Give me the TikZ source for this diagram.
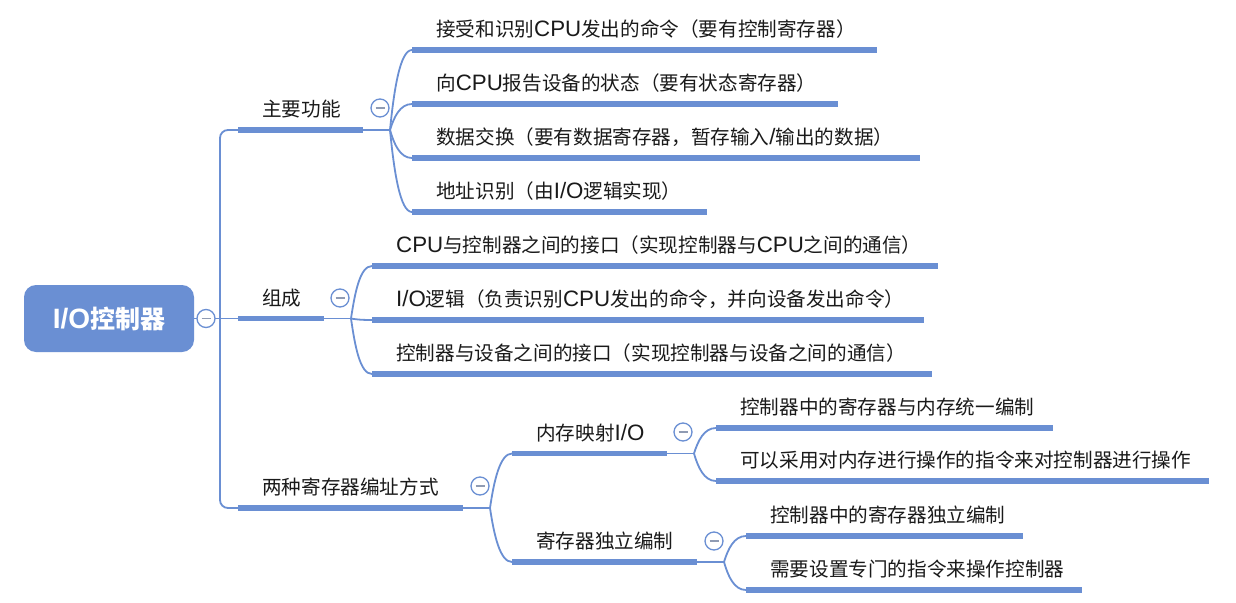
\documentclass[tikz,border=0pt]{standalone}
\usepackage{fontspec}
\setmainfont{Noto Sans CJK SC}
\newfontfamily\latinfont{Liberation Sans}
\usetikzlibrary{calc}
\definecolor{mblue}{HTML}{6A8FD3}
\definecolor{mgrey}{HTML}{8F9BB3}
\definecolor{mtext}{HTML}{1A1A1A}
\newcommand\lat[1]{{\latinfont\fontsize{22.3pt}{23pt}\selectfont #1}}
\newcommand\rlat[1]{{\latinfont\bfseries\fontsize{28pt}{30pt}\selectfont #1}}
\newcommand\tp[2]{\makebox[#1pt][l]{\hspace*{24pt}#2}}
\tikzset{
  topic/.style={anchor=south west, inner xsep=0pt, inner ysep=13pt, text depth=0pt, text height=15pt,
    font=\fontsize{19.6pt}{23pt}\selectfont, text=mtext},
  ul/.style={draw=mblue, line width=5.8pt},
  conn/.style={draw=mblue, line width=1.8pt},
  branch/.style={to path={.. controls ($(\tikztostart)!0.5!(\tikztostart|-\tikztotarget)+(4pt,0)$) and ($(\tikztotarget)+(-12pt,0)$) .. (\tikztotarget)}},
  collapse/.style={circle, draw=mblue, fill=white, line width=1.3pt, minimum size=18pt, inner sep=0pt,
    path picture={\draw[mgrey, line width=1.6pt] ($(path picture bounding box.center)+(-4.5pt,0)$) -- ($(path picture bounding box.center)+(4.5pt,0)$);}},
  rootbox/.style={rounded corners=12pt, fill=mblue, text=white, minimum width=170pt, minimum height=67pt,
    inner sep=0pt, font=\fontsize{25pt}{30pt}\selectfont\bfseries},
}
\begin{document}
\begin{tikzpicture}[x=1pt, y=-1pt]
\useasboundingbox[fill=white] (0,0) rectangle (1236,602);

% root
\node[rootbox] (root) at (109,318.5) {\rlat{I/O}控制器};

% level 1
\node[topic] (m1) at (238,130) {\tp{125}{主要功能}};
\node[topic] (m2) at (238,318.5) {\tp{86}{组成}};
\node[topic] (m3) at (238,508) {\tp{225}{两种寄存器编址方式}};

% children of m1
\node[topic] (a1) at (412,50) {\tp{465}{接受和识别\lat{CPU}发出的命令（要有控制寄存器）}};
\node[topic] (a2) at (412,104) {\tp{426}{向\lat{CPU}报告设备的状态（要有状态寄存器）}};
\node[topic] (a3) at (412,158) {\tp{508}{数据交换（要有数据寄存器，暂存输入\lat{/}输出的数据）}};
\node[topic] (a4) at (412,212) {\tp{295}{地址识别（由\lat{I/O}逻辑实现）}};

% children of m2
\node[topic] (b1) at (372,266) {\tp{566}{\lat{CPU}与控制器之间的接口（实现控制器与\lat{CPU}之间的通信）}};
\node[topic] (b2) at (372,320) {\tp{552}{\lat{I/O}逻辑（负责识别\lat{CPU}发出的命令，并向设备发出命令）}};
\node[topic] (b3) at (372,374) {\tp{560}{控制器与设备之间的接口（实现控制器与设备之间的通信）}};

% children of m3
\node[topic] (c1) at (512,453.5) {\tp{155}{内存映射\lat{I/O}}};
\node[topic] (c2) at (512,562) {\tp{185}{寄存器独立编制}};

% children of c1
\node[topic] (d1) at (716,428) {\tp{337}{控制器中的寄存器与内存统一编制}};
\node[topic] (d2) at (716,481) {\tp{493}{可以采用对内存进行操作的指令来对控制器进行操作}};

% children of c2
\node[topic] (e1) at (746,536) {\tp{277}{控制器中的寄存器独立编制}};
\node[topic] (e2) at (746,590) {\tp{336}{需要设置专门的指令来操作控制器}};

% junctions
\coordinate (J0) at (220,318.5);
\coordinate (J1) at (390,130);
\coordinate (J2) at (351,318.5);
\coordinate (J3) at (490,508);
\coordinate (J4) at (694,453.5);
\coordinate (J5) at (724,562);

% connectors
\draw[conn] (root.east) -- (m2.south west);
\draw[conn, rounded corners=8pt] (J0) |- (m1.south west);
\draw[conn, rounded corners=8pt] (J0) |- (m3.south west);

\draw[conn] (m1.south east) -- (J1);
\foreach \n in {a1,a2,a3,a4} \draw[conn] (J1) to[branch] (\n.south west);

\draw[conn] (m2.south east) -- (J2);
\foreach \n in {b1,b2,b3} \draw[conn] (J2) to[branch] (\n.south west);

\draw[conn] (m3.south east) -- (J3);
\foreach \n in {c1,c2} \draw[conn] (J3) to[branch] (\n.south west);

\draw[conn] (c1.south east) -- (J4);
\foreach \n in {d1,d2} \draw[conn] (J4) to[branch] (\n.south west);

\draw[conn] (c2.south east) -- (J5);
\foreach \n in {e1,e2} \draw[conn] (J5) to[branch] (\n.south west);

% underlines
\foreach \n in {m1,m2,m3,a1,a2,a3,a4,b1,b2,b3,c1,c2,d1,d2,e1,e2}
  \draw[ul] (\n.south west) -- (\n.south east);

% collapse buttons
\node[collapse] (k0) at (206,318.5) {};
\node[collapse] (k1) at (380,108) {};
\node[collapse] (k2) at (340,298) {};
\node[collapse] (k3) at (480,486) {};
\node[collapse] (k4) at (683,432) {};
\node[collapse] (k5) at (714,541) {};
\end{tikzpicture}
\end{document}
